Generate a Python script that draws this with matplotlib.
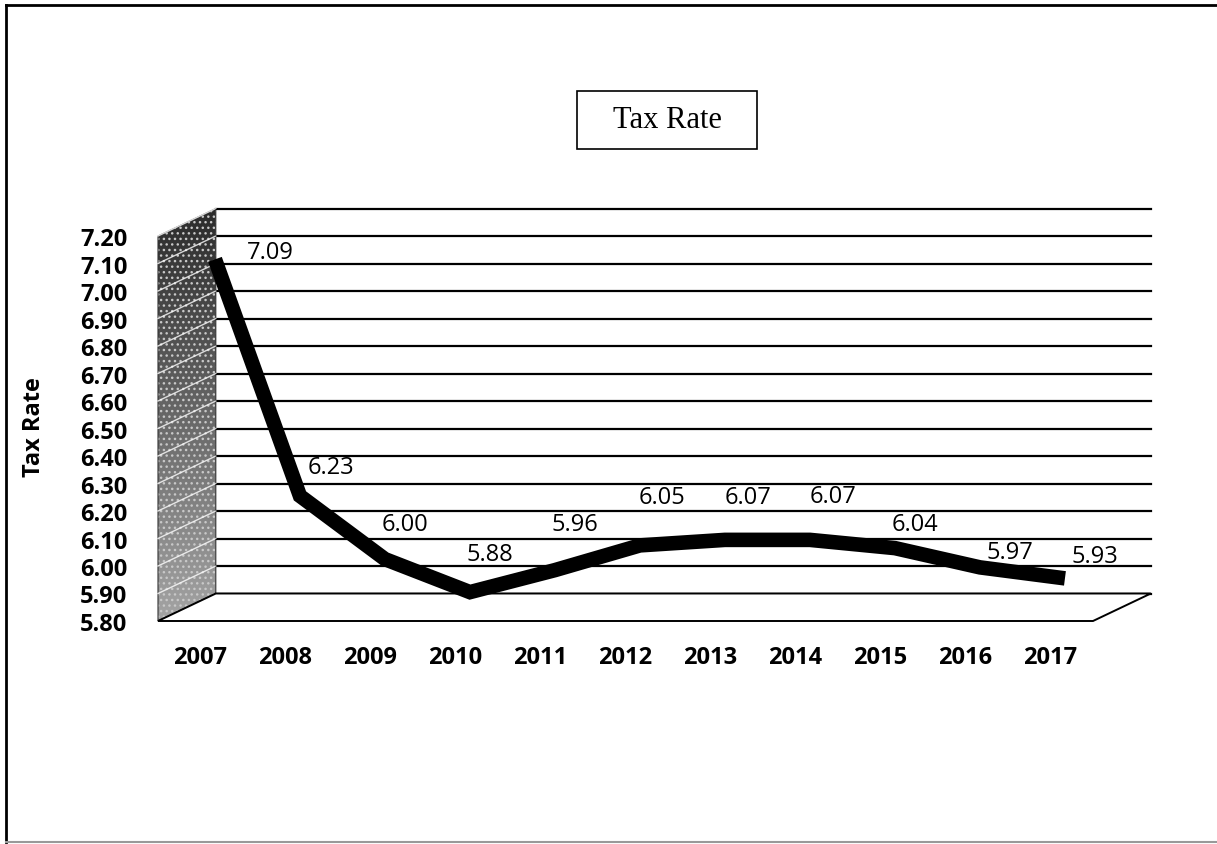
import numpy as np
import matplotlib
matplotlib.use("Agg")
import matplotlib.pyplot as plt
from matplotlib.patches import Polygon, Rectangle
from matplotlib.lines import Line2D

years = ['2007', '2008', '2009', '2010', '2011', '2012', '2013', '2014', '2015', '2016', '2017']
tax_rate = [7.09, 6.23, 6.00, 5.88, 5.96, 6.05, 6.07, 6.07, 6.04, 5.97, 5.93]
y_ticks = [5.80, 5.90, 6.00, 6.10, 6.20, 6.30, 6.40, 6.50, 6.60, 6.70, 6.80, 6.90, 7.00, 7.10, 7.20]

# where Excel put the data labels (front plane units)
label_dx = [0.82, 0.54, 0.41, 0.41, 0.41, 0.43, 0.44, 0.44, 0.41, 0.52, 0.52]
label_y = [7.142, 6.36, 6.153, 6.044, 6.153, 6.251, 6.251, 6.255, 6.153, 6.051, 6.036]

W, H = 1217, 845
fig = plt.figure(figsize=(W / 100, H / 100), dpi=100)

# front plane of the 3d box
ax = fig.add_axes([158 / W, 1 - 622 / H, 935 / W, 385 / H])
n = len(years)
x0, x1 = -0.5, n - 0.5
ymin, ymax = y_ticks[0], y_ticks[-1]
for s in ax.spines.values():
    s.set_visible(False)
ax.patch.set_visible(False)

DX, DY = 0.68, 0.10   # depth offset of the back wall

# left side wall, dark at the top and lighter at the bottom
wall = Polygon([(x0, ymin), (x0, ymax), (x0 + DX, ymax + DY), (x0 + DX, ymin + DY)],
               closed=True, facecolor='none', edgecolor='#333333', lw=0.8, clip_on=False, zorder=1)
ax.add_patch(wall)
grad = np.linspace(0, 1, 256).reshape(-1, 1)
img = ax.imshow(grad, cmap='gray', vmin=-0.35, vmax=1.75, aspect='auto', origin='upper',
                extent=[x0, x0 + DX, ymin, ymax + DY], zorder=0.5)
img.set_clip_box(fig.bbox)
img.set_clip_path(wall)
dots = Polygon(wall.get_xy(), closed=True, facecolor='none', edgecolor='#c8c8c8',
               hatch='...', lw=0, clip_on=False, zorder=0.6)
ax.add_patch(dots)
ax.set_xlim(x0, x1)
ax.set_ylim(ymin, ymax)

# grid lines on back wall and side wall
for v in y_ticks:
    ax.add_line(Line2D([x0 + DX, x1 + DX], [v + DY, v + DY], color='black', lw=1.6,
                       clip_on=False, zorder=2))
    if v > ymin:
        ax.add_line(Line2D([x0, x0 + DX], [v, v + DY], color='white', lw=1.0, alpha=0.8,
                           clip_on=False, zorder=2))

# floor
floor = Polygon([(x0, ymin), (x1, ymin), (x1 + DX, ymin + DY), (x0 + DX, ymin + DY)],
                closed=True, facecolor='white', edgecolor='black', lw=1.4, clip_on=False, zorder=2.5)
ax.add_patch(floor)

# the line, drawn a quarter of the way into the box
f = 0.25
xs = np.arange(n) + f * DX
ys = np.array(tax_rate) + f * DY
ax.plot(xs, ys, color='black', lw=10.5, solid_capstyle='butt', solid_joinstyle='miter',
        clip_on=False, zorder=3)

for i, v in enumerate(tax_rate):
    ax.text(i + label_dx[i], label_y[i], f'{v:.2f}', ha='center', va='center',
            fontsize=17, family='Open Sans', zorder=4)

ax.set_yticks(y_ticks)
ax.set_yticklabels([f'{v:.2f}' for v in y_ticks], fontsize=17, family='Open Sans', fontweight='bold')
ax.set_xticks(range(n))
ax.set_xticklabels(years, fontsize=17, family='Open Sans', fontweight='bold')
ax.tick_params(axis='y', length=0, pad=22)
ax.tick_params(axis='x', length=0, pad=17)

fig.text(34 / W, 1 - 427 / H, 'Tax Rate', rotation=90, ha='center', va='center',
         fontsize=17, family='Open Sans', fontweight='bold')

# title in a box
fig.patches.append(Rectangle((577 / W, 1 - 150 / H), 180 / W, 58 / H, transform=fig.transFigure,
                             facecolor='white', edgecolor='black', lw=1.2))
fig.text(667 / W, 1 - 121 / H, 'Tax Rate', ha='center', va='center',
         fontsize=22, family='Liberation Serif')

# outer border of the chart area
fig.add_artist(Line2D([6 / W, 6 / W], [1 - 6 / H, 1 - 843 / H], transform=fig.transFigure,
                      color='black', lw=2))
fig.add_artist(Line2D([6 / W, 1], [1 - 6 / H, 1 - 6 / H], transform=fig.transFigure,
                      color='black', lw=2))
fig.add_artist(Line2D([6 / W, 1], [1 - 843 / H, 1 - 843 / H], transform=fig.transFigure,
                      color='#999999', lw=1.5))

fig.savefig('out.png', dpi=100)
